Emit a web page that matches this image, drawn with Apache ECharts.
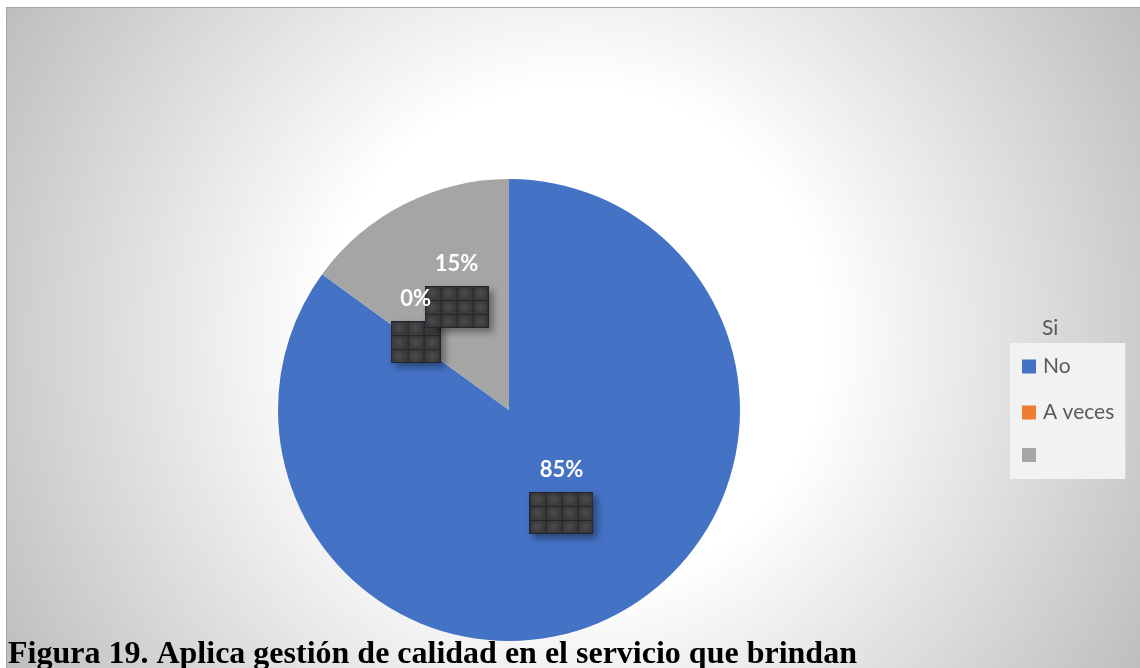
<!DOCTYPE html>
<html>
<head>
<meta charset="utf-8">
<script src="https://cdn.jsdelivr.net/npm/echarts@6/dist/echarts.min.js"></script>
<style>
  html, body { margin: 0; padding: 0; background: #ffffff; width: 1140px; height: 668px; overflow: hidden; }
  #chart {
    position: absolute; left: 6px; top: 7px;
    width: 1134px; height: 661px;
    border-top: 1px solid #a6a6a6; border-left: 1px solid #a6a6a6;
  }
</style>
</head>
<body>
<div id="chart"></div>
<script>
// Answers to "Aplica gestión de calidad en el servicio que brindan" (percent)
const categories = ['No', 'A veces', 'Si'];
const values = [85, 0, 15];
const colors = ['#4472C4', '#ED7D31', '#A5A5A5'];
const legendTitle = 'Si';
const caption = 'Figura 19. Aplica gestión de calidad en el servicio que brindan';

const total = values.reduce((a, b) => a + b, 0);

// Label anchors: middle of each slice (half radius, mid angle), on a polar
// system that shares the pie's centre, radius and start angle.
const labelPoints = [];
let acc = 0;
values.forEach((v, i) => {
  labelPoints.push({ value: [0.5, acc + v / 2], pct: Math.round(v / total * 100) });
  acc += v;
});

// Dark tiled plate drawn under each data label
function makePlate(w, h, cols, rows) {
  const c = document.createElement('canvas');
  c.width = w; c.height = h;
  const g = c.getContext('2d');
  g.fillStyle = '#3c3c3c';
  g.fillRect(0, 0, w, h);
  const cw = w / cols, ch = h / rows;
  for (let i = 0; i < cols; i++) {
    for (let j = 0; j < rows; j++) {
      const grd = g.createRadialGradient(i * cw + cw / 2, j * ch + ch / 2, 1, i * cw + cw / 2, j * ch + ch / 2, cw / 2);
      grd.addColorStop(0, '#4a4a4a');
      grd.addColorStop(1, '#373737');
      g.fillStyle = grd;
      g.fillRect(i * cw + 1, j * ch + 1, cw - 2, ch - 2);
    }
  }
  g.strokeStyle = '#222428';
  g.lineWidth = 1;
  for (let i = 1; i < cols; i++) {
    g.beginPath(); g.moveTo(Math.round(i * cw) + 0.5, 0); g.lineTo(Math.round(i * cw) + 0.5, h); g.stroke();
  }
  for (let j = 1; j < rows; j++) {
    g.beginPath(); g.moveTo(0, Math.round(j * ch) + 0.5); g.lineTo(w, Math.round(j * ch) + 0.5); g.stroke();
  }
  g.strokeStyle = '#1f2430';
  g.strokeRect(0.5, 0.5, w - 1, h - 1);
  return c;
}
const plateWide = makePlate(64, 42, 4, 3);
const plateNarrow = makePlate(50, 42, 3, 3);

const plateStyle = {
  height: 42,
  shadowColor: 'rgba(0,0,0,0.4)',
  shadowBlur: 7,
  shadowOffsetX: 4,
  shadowOffsetY: 4
};

const pieCenter = [502, 402];
const pieRadius = 231;

// invisible anchor points carrying the labels
const anchorBase = {
  type: 'scatter',
  coordinateSystem: 'polar',
  silent: true,
  symbolSize: 1,
  itemStyle: { color: 'rgba(0,0,0,0)', opacity: 1 },
  data: labelPoints
};

const chart = echarts.init(document.getElementById('chart'), null, { renderer: 'canvas' });

chart.setOption({
  backgroundColor: {
    type: 'radial', x: 0.5, y: 0.5, r: 1,
    colorStops: [
      { offset: 0, color: '#ffffff' },
      { offset: 0.38, color: '#ffffff' },
      { offset: 1, color: '#bdbdbd' }
    ]
  },
  animation: false,
  color: colors,
  title: [
    {
      text: caption,
      left: 1, top: 631, padding: 0,
      textStyle: { fontFamily: 'Liberation Serif', fontWeight: 'bold', fontSize: 32, color: '#000000' }
    },
    {
      text: legendTitle,
      left: 1035, top: 310, padding: 0,
      textStyle: { fontFamily: 'Lato', fontWeight: 'normal', fontSize: 21, color: '#595959' }
    }
  ],
  legend: {
    orient: 'vertical',
    left: 1003, top: 335,
    backgroundColor: '#f2f2f2',
    padding: [13, 11, 17, 12],
    itemWidth: 14, itemHeight: 14, itemGap: 25,
    icon: 'rect',
    data: categories,
    formatter: name => (name === legendTitle ? '' : name),
    textStyle: { fontFamily: 'Lato', fontSize: 21, color: '#595959', lineHeight: 20, padding: [0, 0, 0, 2] }
  },
  polar: { center: pieCenter, radius: pieRadius },
  angleAxis: { type: 'value', min: 0, max: total, startAngle: 90, clockwise: true, show: false },
  radiusAxis: { type: 'value', min: 0, max: 1, show: false },
  series: [
    {
      type: 'pie',
      center: pieCenter,
      radius: pieRadius,
      startAngle: 90,
      clockwise: true,
      emphasis: { disabled: true },
      itemStyle: { borderWidth: 0 },
      label: { show: false },
      labelLine: { show: false },
      data: categories.map((name, i) => ({ name: name, value: values[i] }))
    },
    Object.assign({}, anchorBase, {
      z: 5,
      labelLayout: { hideOverlap: false },
      label: {
        show: true,
        position: 'inside',
        formatter: p => '{' + ((p.data.pct + '%').length > 2 ? 'w' : 'n') + '|}',
        rich: {
          w: Object.assign({ width: 64, backgroundColor: { image: plateWide } }, plateStyle),
          n: Object.assign({ width: 50, backgroundColor: { image: plateNarrow } }, plateStyle)
        }
      }
    }),
    Object.assign({}, anchorBase, {
      z: 6,
      labelLayout: { hideOverlap: false, dy: -43 },
      label: {
        show: true,
        position: 'inside',
        formatter: p => p.data.pct + '%',
        fontFamily: 'Lato', fontWeight: 'bold', fontSize: 22, color: '#ffffff'
      }
    })
  ]
});
</script>
</body>
</html>
